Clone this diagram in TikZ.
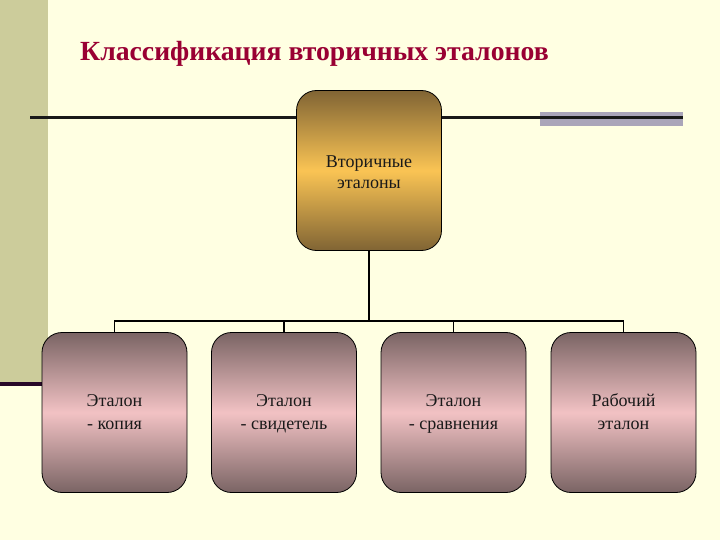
\documentclass[tikz,border=0pt]{standalone}
\usepackage{fontspec}
\setmainfont{Liberation Serif}
\definecolor{bgcream}{RGB}{255,255,226}
\definecolor{sidebar}{RGB}{204,204,155}
\definecolor{titlered}{RGB}{153,0,51}
\definecolor{darkpurple}{RGB}{40,8,40}
\definecolor{graybar}{RGB}{170,165,185}
\definecolor{golddark}{RGB}{128,100,52}
\definecolor{goldlight}{RGB}{250,196,84}
\definecolor{mauvedark}{RGB}{122,100,100}
\definecolor{pinklight}{RGB}{242,194,196}
\newcommand\toplinestrut{\rule{0pt}{20.9pt}}
\newcommand\toplaststrut{\rule[-6.3pt]{0pt}{6.3pt}}
\newcommand\botfirststrut{\rule{0pt}{17.6pt}}
\newcommand\botlaststrut{\rule[-6.7pt]{0pt}{6.7pt}}
\tikzset{
  boxbase/.style={draw=black, line width=0.8pt, rounded corners=20pt,
    minimum width=145pt, minimum height=160pt, inner sep=0pt,
    align=center, text=black!90},
  goldbox/.style={boxbase, font=\fontsize{18}{21}\selectfont,
    top color=golddark, bottom color=golddark, middle color=goldlight},
  pinkbox/.style={boxbase, font=\fontsize{18}{22.5}\selectfont,
    top color=mauvedark, bottom color=mauvedark, middle color=pinklight},
  conn/.style={draw=black, line width=1.8pt},
}
\begin{document}
\begin{tikzpicture}[x=1pt,y=-1pt]
\useasboundingbox (0,0) rectangle (720,540);
\fill[bgcream] (0,0) rectangle (720,540);
\fill[sidebar] (0,0) rectangle (48,383);
\fill[darkpurple] (0,382) rectangle (60,386);
\fill[graybar] (540,112) rectangle (683,126);
\coordinate (lineL) at (30,117.5);
\coordinate (lineR) at (683,117.5);
\draw[conn, line width=2.2pt, draw=black!90] (lineL) -- (lineR);
\node[anchor=base west, font=\bfseries\fontsize{27.7}{30}\selectfont, text=titlered, inner sep=0pt] (title) at (80,61) {Классификация вторичных эталонов};
\node[goldbox] (top) at (369,170.5) {\toplinestrut Вторичные\\эталоны\toplaststrut};
\node[pinkbox] (b1) at (114.5,412.5) {\botfirststrut Эталон\\- копия\botlaststrut};
\node[pinkbox] (b2) at (284,412.5) {\botfirststrut Эталон\\- свидетель\botlaststrut};
\node[pinkbox] (b3) at (453.5,412.5) {\botfirststrut Эталон\\- сравнения\botlaststrut};
\node[pinkbox] (b4) at (623.5,412.5) {\botfirststrut Рабочий\\эталон\botlaststrut};
\coordinate (j) at (369,321);
\draw[conn] (top.south) -- (j);
\draw[conn] (b1.north) -- (b1.north |- j) -- (b4.north |- j) -- (b4.north);
\draw[conn] (b2.north) -- (b2.north |- j);
\draw[conn] (b3.north) -- (b3.north |- j);
\end{tikzpicture}
\end{document}
